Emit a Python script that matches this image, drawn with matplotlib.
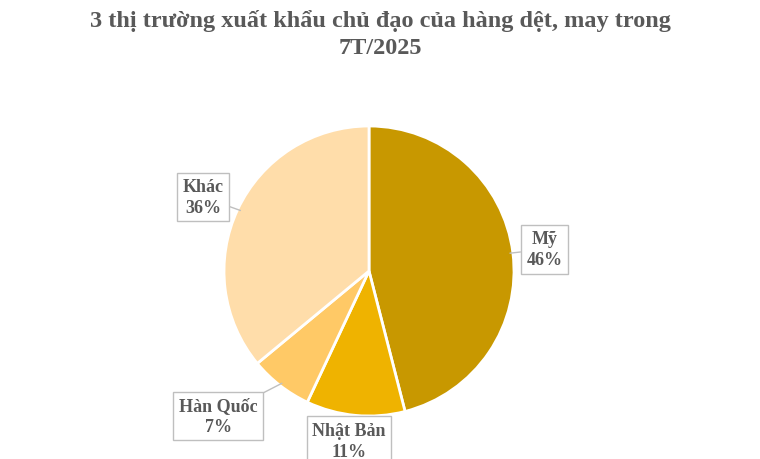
import numpy as np
import matplotlib.pyplot as plt

# data
labels = ['Mỹ', 'Nhật Bản', 'Hàn Quốc', 'Khác']
shares = [46, 11, 7, 36]
colors = ['#C89800', '#EFB300', '#FFC966', '#FFDDAA']
title = '3 thị trường xuất khẩu chủ đạo của hàng dệt, may trong\n7T/2025'

# label box positions (data units, pie radius = 1)
box_pos = [(1.21, 0.15), (-0.14, -1.17), (-1.04, -1.0), (-1.145, 0.51)]
# leader line end points (fraction of radius along mid angle)
tip_r = [0.98, 0.0, 0.98, 0.98]

plt.rcParams['font.family'] = ['Liberation Serif', 'DejaVu Serif']

fig = plt.figure(figsize=(7.6, 4.6), dpi=100)
ax = fig.add_axes([0, 0, 1, 1])

wedges, _ = ax.pie(shares, colors=colors, startangle=90, counterclock=False,
                   wedgeprops=dict(edgecolor='white', linewidth=2))

# scale: 145 px per unit, centre at (369, 272) from top-left
s = 145.0
ax.set_xlim(-369 / s, (760 - 369) / s)
ax.set_ylim(-(460 - 272) / s, 272 / s)
ax.set_aspect('auto')
ax.axis('off')

for w, lab, val, (bx, by), tr in zip(wedges, labels, shares, box_pos, tip_r):
    mid = np.deg2rad((w.theta1 + w.theta2) / 2)
    txt = f'{lab}\n{val}%'
    bbox = dict(boxstyle='square,pad=0.3', fc='white', ec='#BFBFBF', lw=1)
    if tr > 0:
        tx, ty = tr * np.cos(mid), tr * np.sin(mid)
        ax.annotate(txt, xy=(tx, ty), xytext=(bx, by), ha='center', va='center',
                    fontsize=13, fontweight='bold', color='#595959',
                    linespacing=1.3, bbox=bbox,
                    arrowprops=dict(arrowstyle='-', color='#BFBFBF', lw=1,
                                    shrinkA=0, shrinkB=0))
    else:
        ax.text(bx, by, txt, ha='center', va='center', fontsize=13,
                fontweight='bold', color='#595959', linespacing=1.3, bbox=bbox)

for i, line in enumerate(title.split('\n')):
    fig.text(0.5, 1 - (21 + 28 * i) / 460, line, ha='center', va='center',
             fontsize=17.5, fontweight='bold', color='#595959')

fig.savefig('out.png', dpi=100)
